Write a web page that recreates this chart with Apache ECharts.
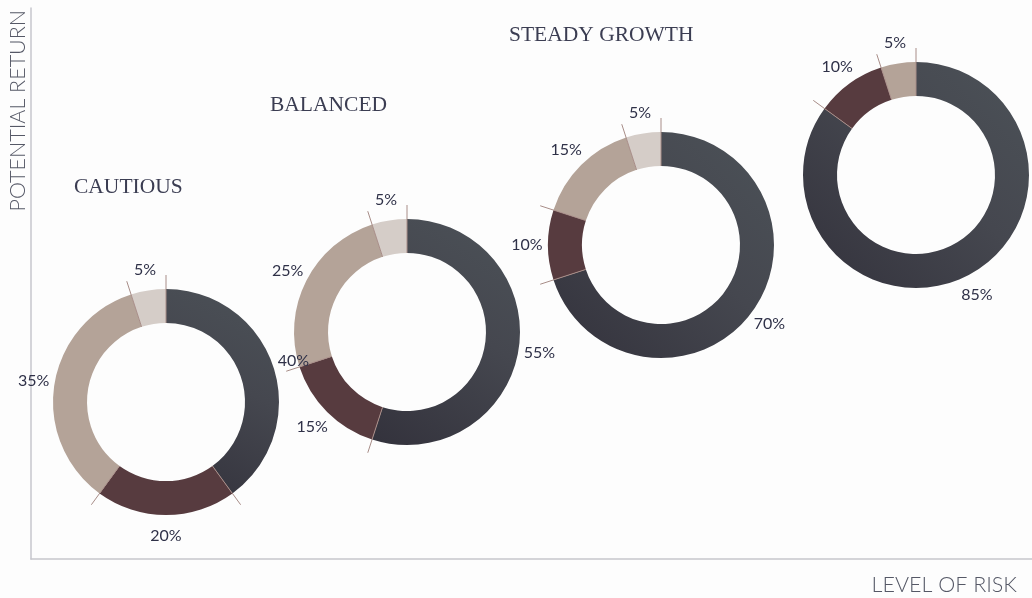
<!DOCTYPE html>
<html>
<head>
<meta charset="utf-8">
<title>Risk and return</title>
<script src="https://cdn.jsdelivr.net/npm/echarts@6/dist/echarts.min.js"></script>
<style>
  html, body { margin: 0; padding: 0; background: #fff; }
  #chart { width: 1032px; height: 598px; }
</style>
</head>
<body>
<div id="chart"></div>
<script>
// portfolio names (the last one has no heading in the picture)
var portfolios = ['CAUTIOUS', 'BALANCED', 'STEADY GROWTH', ''];
// asset mix in percent, clockwise from 12 o'clock
var assetNames = ['Growth', 'Income', 'Defensive', 'Cash'];
var cautious = [40, 20, 35, 5];
var balanced = [55, 15, 25, 5];
var steadyGrowth = [70, 10, 15, 5];
var adventurous = [85, 10, 5];
var mixes = [cautious, balanced, steadyGrowth, adventurous];

// where each donut sits (pixels) and its title position
var centers = [[166, 402], [407, 332], [661, 245], [916, 175]];
var titlePos = [[74, 176], [270, 94], [509, 24], [0, 0]];

var sliceColors = [
    new echarts.graphic.LinearGradient(1, 0, 0, 1, [
        { offset: 0, color: '#4c5258' },
        { offset: 0.45, color: '#45474f' },
        { offset: 1, color: '#33323c' }
    ]),
    '#573b3f',
    '#b4a398',
    '#d5cdc8'
];
var lineColor = '#a88d88';

var myChart = echarts.init(document.getElementById('chart'));

var titles = [];
var series = [];
for (var i = 0; i < mixes.length; i++) {
    if (portfolios[i]) {
        titles.push({
            text: portfolios[i],
            left: titlePos[i][0],
            top: titlePos[i][1],
            padding: 0,
            textStyle: {
                fontFamily: 'Liberation Serif',
                fontSize: 21.5,
                fontWeight: 'normal',
                color: '#3b3d52'
            }
        });
    }

    var ring = [];
    var ticks = [];
    for (var j = 0; j < mixes[i].length; j++) {
        ring.push({
            name: assetNames[j],
            value: mixes[i][j],
            itemStyle: { color: sliceColors[j] }
        });
        // zero sized slice = a separator line at each boundary
        ticks.push({ name: 'edge' + j, value: 0 });
        ticks.push({
            name: assetNames[j],
            value: mixes[i][j],
            label: { show: false },
            labelLine: { show: false }
        });
    }

    // the coloured ring
    series.push({
        name: portfolios[i] || 'portfolio' + i,
        type: 'pie',
        center: centers[i],
        radius: [79, 113],
        startAngle: 90,
        silent: true,
        data: ring,
        label: { show: false },
        labelLine: { show: false }
    });

    // invisible outer band that only carries the percent labels
    series.push({
        name: 'labels' + i,
        type: 'pie',
        z: 4,
        center: centers[i],
        radius: [113, 149],
        startAngle: 90,
        silent: true,
        data: mixes[i],
        itemStyle: { color: 'rgba(0,0,0,0)' },
        label: {
            show: true,
            position: 'inside',
            formatter: '{c}%',
            fontFamily: 'Lato',
            fontSize: 16,
            color: '#2f3148'
        },
        labelLine: { show: false }
    });

    // separator lines
    series.push({
        name: 'edges' + i,
        type: 'pie',
        z: 3,
        center: centers[i],
        radius: [0, 79],
        startAngle: 90,
        avoidLabelOverlap: false,
        silent: true,
        data: ticks,
        itemStyle: { color: 'rgba(0,0,0,0)' },
        label: { show: true, position: 'outside', formatter: ' ', fontSize: 4 },
        labelLine: {
            show: true,
            length: 48,
            length2: 0,
            lineStyle: { color: lineColor, width: 1 }
        }
    });
}

var option = {
    backgroundColor: '#fdfdfd',
    animation: false,
    title: titles,
    grid: { left: 31, right: 0, top: 8, bottom: 39 },
    xAxis: {
        type: 'value',
        min: 0,
        max: 1,
        name: 'LEVEL OF RISK',
        nameLocation: 'end',
        nameGap: -15,
        nameTextStyle: {
            fontFamily: 'Lato',
            fontWeight: 300,
            fontSize: 21.5,
            color: '#555866',
            align: 'right',
            verticalAlign: 'top',
            padding: [15, 0, 0, 0]
        },
        axisLine: { show: true, lineStyle: { color: '#c6c6cc', width: 1.5 } },
        axisTick: { show: false },
        axisLabel: { show: false },
        splitLine: { show: false }
    },
    yAxis: {
        type: 'value',
        min: 0,
        max: 1,
        name: 'POTENTIAL RETURN',
        nameLocation: 'end',
        nameRotate: 90,
        nameGap: -2,
        nameTextStyle: {
            fontFamily: 'Lato',
            fontWeight: 300,
            fontSize: 21.5,
            color: '#555866',
            align: 'right',
            verticalAlign: 'bottom',
            padding: [0, 0, 2, 0]
        },
        axisLine: { show: true, lineStyle: { color: '#c6c6cc', width: 1.5 } },
        axisTick: { show: false },
        axisLabel: { show: false },
        splitLine: { show: false }
    },
    series: series
};

if (option && typeof option === 'object') {
    myChart.setOption(option, true);
}
</script>
</body>
</html>
